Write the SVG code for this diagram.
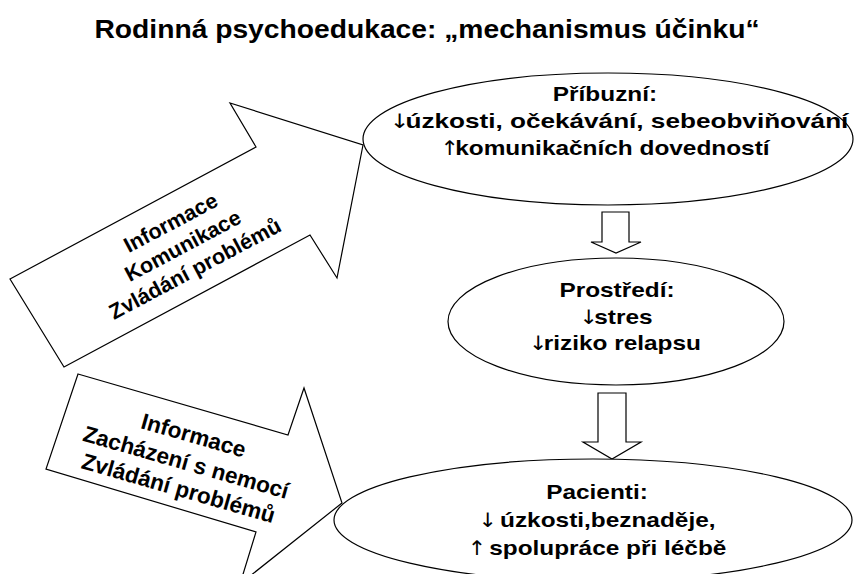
<svg xmlns="http://www.w3.org/2000/svg" width="854" height="574" viewBox="0 0 854 574">
<style>
  .shape { fill: #ffffff; stroke: #000000; stroke-width: 1.2; stroke-linejoin: miter; }
  .t { font-family: "Liberation Sans", Arial, sans-serif; font-weight: bold; fill: #000000; text-anchor: middle; }
  .et { font-size: 20px; }
  .at { font-size: 21.5px; }
  .ar { font-family: "DejaVu Sans Condensed", "DejaVu Sans", sans-serif; font-weight: normal; fill: #000000; letter-spacing: -3px; }
</style>
<rect x="0" y="0" width="854" height="574" fill="#ffffff"/>
<text class="t" font-size="25" transform="translate(427,38) scale(1.13,1)">Rodinná psychoedukace: „mechanismus účinku“</text>

<g id="connectors">
  <g id="arrow-relatives">
    <polygon class="shape" points="10,279 256,147 230,103 363,145 337,278 310,235 64,367"/>
    <g transform="translate(183,246) rotate(-28)">
      <text class="t at" x="0" y="-19">Informace</text>
      <text class="t at" x="0" y="7">Komunikace</text>
      <text class="t at" x="0" y="33">Zvládání problémů</text>
    </g>
  </g>
  <g id="arrow-patients">
    <polygon class="shape" points="78,374 288,435 304,388 342,503 240,584 256,532 46,469"/>
    <g transform="translate(186,462) rotate(16)">
      <text class="t at" x="0" y="-20" style="font-size:22.5px">Informace</text>
      <text class="t at" x="0" y="8" style="font-size:22.5px">Zacházení s nemocí</text>
      <text class="t at" x="0" y="35" style="font-size:22.5px">Zvládání problémů</text>
    </g>
  </g>
  <polygon id="down-arrow-1" class="shape" points="602,212 629,212 629,242 641,242 616,253 591,242 602,242"/>
  <polygon id="down-arrow-2" class="shape" points="598,393 626,393 626,442 641,442 612,459 583,442 598,442"/>
</g>

<g id="node-pribuzni">
  <ellipse class="shape" cx="608" cy="139" rx="245" ry="66"/>
  <text class="t et" transform="translate(605,101) scale(1.22,1)">Příbuzní:</text>
  <text class="t et" transform="translate(619,128) scale(1.22,1)" textLength="376" lengthAdjust="spacingAndGlyphs"><tspan class="ar">↓</tspan>úzkosti, očekávání, sebeobviňování</text>
  <text class="t et" transform="translate(605,155) scale(1.22,1)"><tspan class="ar">↑</tspan>komunikačních dovedností</text>
</g>

<g id="node-prostredi">
  <ellipse class="shape" cx="616" cy="321.5" rx="168" ry="63.5"/>
  <text class="t et" transform="translate(617,297) scale(1.22,1)">Prostředí:</text>
  <text class="t et" transform="translate(616,324) scale(1.22,1)"><tspan class="ar">↓</tspan>stres</text>
  <text class="t et" transform="translate(615,350) scale(1.22,1)"><tspan class="ar">↓</tspan>riziko relapsu</text>
</g>

<g id="node-pacienti">
  <ellipse class="shape" cx="593" cy="520" rx="259" ry="61"/>
  <text class="t et" transform="translate(597,499) scale(1.22,1)">Pacienti:</text>
  <text class="t et" transform="translate(597,527) scale(1.22,1)"><tspan class="ar">↓</tspan> úzkosti,beznaděje,</text>
  <text class="t et" transform="translate(597,555) scale(1.22,1)"><tspan class="ar">↑</tspan> spolupráce při léčbě</text>
</g>
</svg>
